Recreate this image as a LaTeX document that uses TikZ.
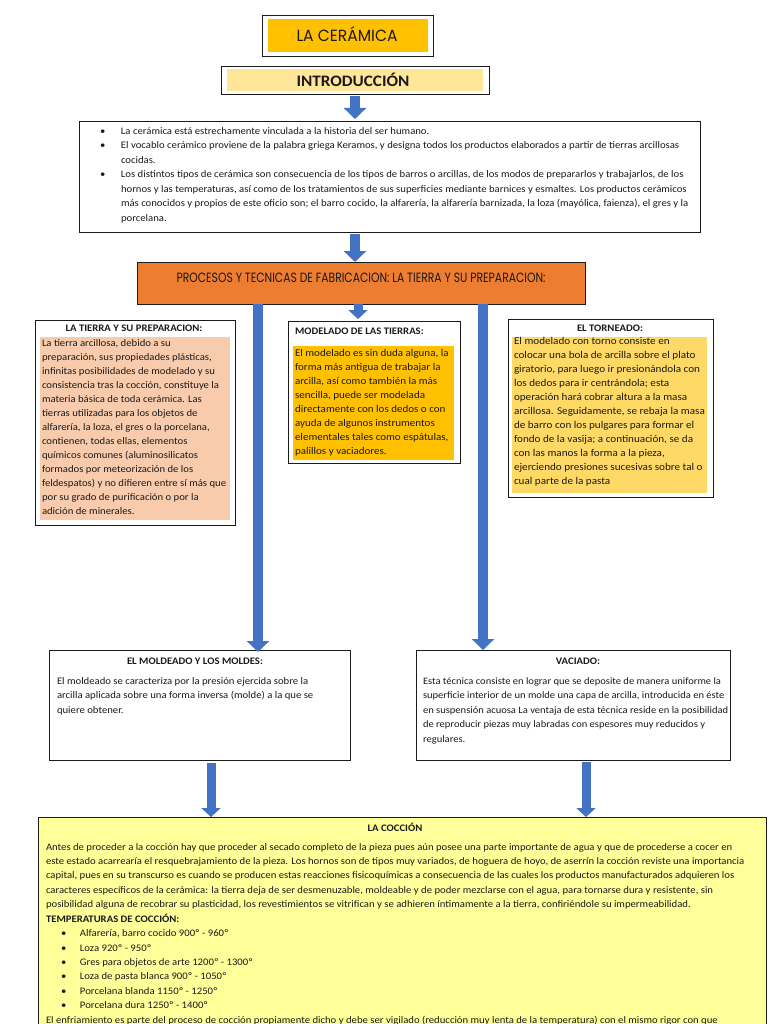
\documentclass[tikz,border=0pt]{standalone}
\usepackage{fontspec}
\setmainfont{Carlito}[FakeStretch=1.07]
\newfontfamily\deco{Poppins}
\usetikzlibrary{arrows.meta,calc}
\definecolor{arrowblue}{HTML}{4472C4}
\definecolor{cTitle}{HTML}{FFC000}
\definecolor{cIntro}{HTML}{FFE699}
\definecolor{cOrange}{HTML}{ED7D31}
\definecolor{cTierra}{HTML}{F8CBAD}
\definecolor{cModel}{HTML}{FFC000}
\definecolor{cTorno}{HTML}{FFD966}
\definecolor{cCoccion}{HTML}{FFFF99}
\definecolor{ink}{HTML}{1A1A1A}
\newcommand{\bodyfont}{\fontsize{10}{14}\selectfont}
\begin{document}
\begin{tikzpicture}[x=1pt,y=-1pt,
  box/.style={draw=ink, line width=0.9pt, anchor=north west, inner sep=0pt, outer sep=0pt},
  panel/.style={draw=none, anchor=north west, inner sep=0pt, outer sep=0pt},
  txt/.style={anchor=north west, inner sep=0pt, outer sep=0pt, align=left, text=ink},
  head/.style={anchor=base, inner sep=0pt, outer sep=0pt, text=ink, font=\fontsize{10}{11}\selectfont\bfseries},
  bigarrow/.style={draw=arrowblue, line width=10pt, -{Triangle[width=22pt,length=11pt]}},
  smallarrow/.style={draw=arrowblue, line width=9pt, -{Triangle[width=19pt,length=9pt]}}
]
\clip (0,0) rectangle (768,1024);
\fill[white] (0,0) rectangle (768,1024);

% ---------- title ----------
\node[box, minimum width=171pt, minimum height=41pt] (titlebox) at (262,15) {};
\node[panel, fill=cTitle, minimum width=160pt, minimum height=33pt] (titlefill) at (268,19) {};
\node[inner sep=0pt, text=ink] (title) at (347,34) {\resizebox{101pt}{15pt}{\deco\fontsize{15}{15}\selectfont LA CERÁMICA}};

% ---------- introduccion ----------
\node[box, minimum width=268pt, minimum height=28pt] (intro) at (221,66) {};
\node[panel, fill=cIntro, minimum width=256pt, minimum height=22pt] (introfill) at (227,69) {};
\node[inner sep=0pt, text=ink, font=\fontsize{16}{16}\selectfont\bfseries] (introlabel) at (353,79.5) {INTRODUCCIÓN};

\node[box, minimum width=621pt, minimum height=111pt] (introtext) at (79,121) {};
\node[txt] (introbody) at (100,124) {\fontsize{10}{14.5}\selectfont
\begin{tabular}{@{}p{21pt}@{}l@{}}
\textbullet & La cerámica está estrechamente vinculada a la historia del ser humano.\\
\textbullet & El vocablo cerámico proviene de la palabra griega Keramos, y designa todos los productos elaborados a partir de tierras arcillosas\\
 & cocidas.\\
\textbullet & Los distintos tipos de cerámica son consecuencia de los tipos de barros o arcillas, de los modos de prepararlos y trabajarlos, de los\\
 & hornos y las temperaturas, así como de los tratamientos de sus superficies mediante barnices y esmaltes. Los productos cerámicos\\
 & más conocidos y propios de este oficio son; el barro cocido, la alfarería, la alfarería barnizada, la loza (mayólica, faienza), el gres y la\\
 & porcelana.
\end{tabular}};

% ---------- procesos ----------
\node[box, fill=cOrange, minimum width=448pt, minimum height=42pt] (orange) at (137,262) {};
\node[inner sep=0pt, text=ink] (orangelabel) at (361,277.5) {\resizebox{369pt}{9.5pt}{\deco\fontsize{12}{12}\selectfont PROCESOS Y TECNICAS DE FABRICACION: LA TIERRA Y SU PREPARACION:}};

% ---------- la tierra ----------
\node[box, minimum width=200pt, minimum height=205pt] (tierra) at (35,320) {};
\node[panel, fill=cTierra, minimum width=190pt, minimum height=183pt] (tierrafill) at (40,337) {};
\node[head] (tierrahead) at (134,331) {LA TIERRA Y SU PREPARACION:};
\node[txt] (tierrabody) at (42,336.5) {\bodyfont
\begin{tabular}{@{}l@{}}
La tierra arcillosa, debido a su\\
preparación, sus propiedades plásticas,\\
infinitas posibilidades de modelado y su\\
consistencia tras la cocción, constituye la\\
materia básica de toda cerámica. Las\\
tierras utilizadas para los objetos de\\
alfarería, la loza, el gres o la porcelana,\\
contienen, todas ellas, elementos\\
químicos comunes (aluminosilicatos\\
formados por meteorización de los\\
feldespatos) y no difieren entre sí más que\\
por su grado de purificación o por la\\
adición de minerales.
\end{tabular}};

% ---------- modelado ----------
\node[box, minimum width=172pt, minimum height=142pt] (modelado) at (288,321) {};
\node[panel, fill=cModel, minimum width=161pt, minimum height=114pt] (modeladofill) at (293,346) {};
\node[head, anchor=base west] (modeladohead) at (295,334) {MODELADO DE LAS TIERRAS:};
\node[txt] (modeladobody) at (295,346.5) {\fontsize{10.3}{14}\selectfont
\begin{tabular}{@{}l@{}}
El modelado es sin duda alguna, la\\
forma más antigua de trabajar la\\
arcilla, así como también la más\\
sencilla, puede ser modelada\\
directamente con los dedos o con\\
ayuda de algunos instrumentos\\
elementales tales como espátulas,\\
palillos y vaciadores.
\end{tabular}};

% ---------- torneado ----------
\node[box, minimum width=205pt, minimum height=178pt] (torneado) at (508,319) {};
\node[panel, fill=cTorno, minimum width=195pt, minimum height=156pt] (torneadofill) at (512,337) {};
\node[head] (torneadohead) at (610,331) {EL TORNEADO:};
\node[txt] (torneadobody) at (514,334.5) {\fontsize{10.4}{14}\selectfont
\begin{tabular}{@{}l@{}}
El modelado con torno consiste en\\
colocar una bola de arcilla sobre el plato\\
giratorio, para luego ir presionándola con\\
los dedos para ir centrándola; esta\\
operación hará cobrar altura a la masa\\
arcillosa. Seguidamente, se rebaja la masa\\
de barro con los pulgares para formar el\\
fondo de la vasija; a continuación, se da\\
con las manos la forma a la pieza,\\
ejerciendo presiones sucesivas sobre tal o\\
cual parte de la pasta
\end{tabular}};

% ---------- moldeado ----------
\node[box, minimum width=301pt, minimum height=110pt] (moldeado) at (49,650) {};
\node[head] (moldeadohead) at (195,664) {EL MOLDEADO Y LOS MOLDES:};
\node[txt] (moldeadobody) at (57,674) {\fontsize{10}{14.5}\selectfont
\begin{tabular}{@{}l@{}}
El moldeado se caracteriza por la presión ejercida sobre la\\
arcilla aplicada sobre una forma inversa (molde) a la que se\\
quiere obtener.
\end{tabular}};

% ---------- vaciado ----------
\node[box, minimum width=314pt, minimum height=110pt] (vaciado) at (416,650) {};
\node[head] (vaciadohead) at (578,664) {VACIADO:};
\node[txt] (vaciadobody) at (423,674) {\fontsize{9.85}{14.5}\selectfont
\begin{tabular}{@{}l@{}}
Esta técnica consiste en lograr que se deposite de manera uniforme la\\
superficie interior de un molde una capa de arcilla, introducida en éste\\
en suspensión acuosa La ventaja de esta técnica reside en la posibilidad\\
de reproducir piezas muy labradas con espesores muy reducidos y\\
regulares.
\end{tabular}};

% ---------- coccion ----------
\node[box, fill=cCoccion, minimum width=728pt, minimum height=230pt] (coccion) at (38,817) {};
\node[head] (coccionhead) at (395,831) {LA COCCIÓN};
\node[txt] (coccionbody) at (46,840) {\fontsize{10}{14.42}\selectfont
\begin{tabular}{@{}p{34pt}@{}l@{}}
\multicolumn{2}{@{}l@{}}{Antes de proceder a la cocción hay que proceder al secado completo de la pieza pues aún posee una parte importante de agua y que de procederse a cocer en}\\
\multicolumn{2}{@{}l@{}}{este estado acarrearía el resquebrajamiento de la pieza. Los hornos son de tipos muy variados, de hoguera de hoyo, de aserrín la cocción reviste una importancia}\\
\multicolumn{2}{@{}l@{}}{capital, pues en su transcurso es cuando se producen estas reacciones fisicoquímicas a consecuencia de las cuales los productos manufacturados adquieren los}\\
\multicolumn{2}{@{}l@{}}{caracteres específicos de la cerámica: la tierra deja de ser desmenuzable, moldeable y de poder mezclarse con el agua, para tornarse dura y resistente, sin}\\
\multicolumn{2}{@{}l@{}}{posibilidad alguna de recobrar su plasticidad, los revestimientos se vitrifican y se adhieren íntimamente a la tierra, confiriéndole su impermeabilidad.}\\
\multicolumn{2}{@{}l@{}}{\bfseries TEMPERATURAS DE COCCIÓN:}\\
\hspace{15pt}\textbullet & Alfarería, barro cocido 900º - 960º\\
\hspace{15pt}\textbullet & Loza 920º - 950º\\
\hspace{15pt}\textbullet & Gres para objetos de arte 1200º - 1300º\\
\hspace{15pt}\textbullet & Loza de pasta blanca 900º - 1050º\\
\hspace{15pt}\textbullet & Porcelana blanda 1150º - 1250º\\
\hspace{15pt}\textbullet & Porcelana dura 1250º - 1400º\\
\multicolumn{2}{@{}l@{}}{El enfriamiento es parte del proceso de cocción propiamente dicho y debe ser vigilado (reducción muy lenta de la temperatura) con el mismo rigor con que}
\end{tabular}};

% ---------- arrows ----------
\coordinate (xm) at (358,0);
\coordinate (xl) at (258,0);
\coordinate (xr) at (483,0);
\coordinate (xbl) at (211,0);
\coordinate (xbr) at (586,0);
\draw[bigarrow, shorten <=2pt, shorten >=2pt] (intro.south) -- (intro.south |- introtext.north);
\draw[bigarrow, shorten <=2pt] (introtext.south -| intro.south) -- (intro.south |- orange.north);
\draw[smallarrow, shorten >=2pt] (orange.south -| xm) -- (modelado.north -| xm);
\draw[bigarrow] (orange.south -| xl) -- ($(moldeado.north -| xl)+(0,2)$);
\draw[bigarrow] (orange.south -| xr) -- (vaciado.north -| xr);
\draw[smallarrow, shorten <=3pt] (moldeado.south -| xbl) -- (coccion.north -| xbl);
\draw[smallarrow, shorten <=2pt] (vaciado.south -| xbr) -- (coccion.north -| xbr);
\end{tikzpicture}
\end{document}
